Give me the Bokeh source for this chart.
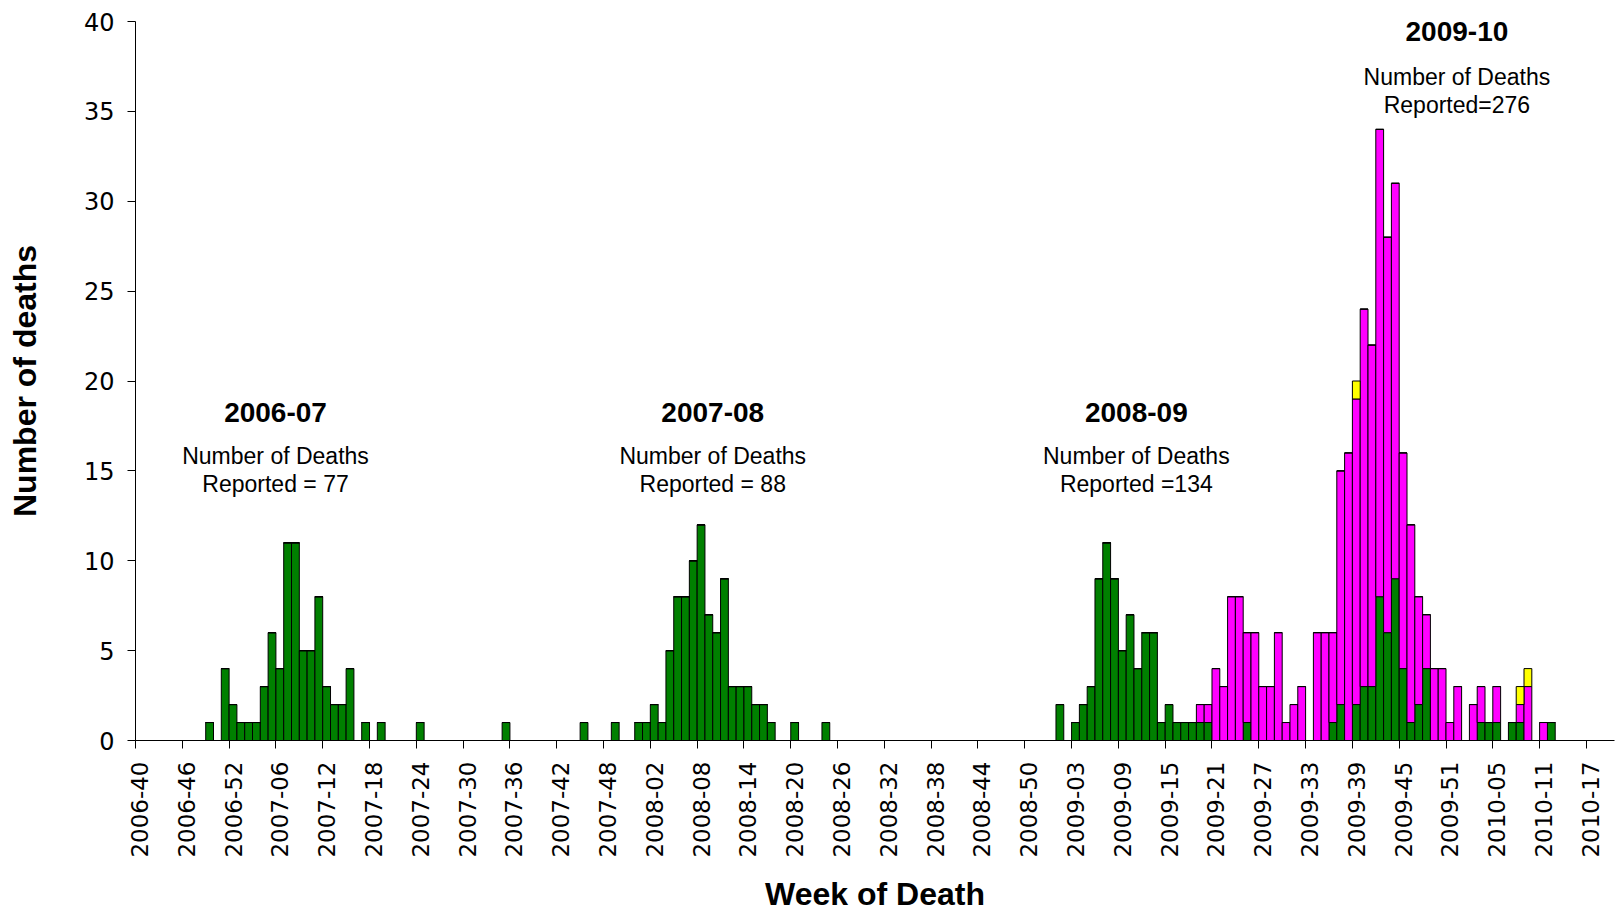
import math
from bokeh.plotting import figure
from bokeh.models import ColumnDataSource, FixedTicker, Range1d, Label
from bokeh.embed import file_html
from bokeh.resources import INLINE

# ---------------- data ----------------
# weeks per (surveillance) year, used to build the week-of-death categories
YEAR_WEEKS = {2006: 52, 2007: 52, 2008: 53, 2009: 52, 2010: 52}
FIRST_YEAR, FIRST_WEEK = 2006, 40
N_AXIS_WEEKS = 192

# deaths per week, starting at 2006-40 (one entry per week)
green = [
    0, 0, 0, 0, 0, 0, 0, 0, 0, 1, 0, 4, 2,          # 2006-40 .. 2006-52
    1, 1, 1, 3, 6, 4, 11, 11, 5, 5, 8, 3, 2,        # 2007-01 .. 13
    2, 4, 0, 1, 0, 1, 0, 0, 0, 0, 1, 0, 0,          # 2007-14 .. 26
    0, 0, 0, 0, 0, 0, 0, 0, 1, 0, 0, 0, 0,          # 2007-27 .. 39
    0, 0, 0, 0, 0, 1, 0, 0, 0, 1, 0, 0, 1,          # 2007-40 .. 52
    1, 2, 1, 5, 8, 8, 10, 12, 7, 6, 9, 3, 3,        # 2008-01 .. 13
    3, 2, 2, 1, 0, 0, 1, 0, 0, 0, 1, 0, 0,          # 2008-14 .. 26
    0, 0, 0, 0, 0, 0, 0, 0, 0, 0, 0, 0, 0,          # 2008-27 .. 39
    0, 0, 0, 0, 0, 0, 0, 0, 0, 0, 0, 0, 0, 0,       # 2008-40 .. 53
    2, 0, 1, 2, 3, 9, 11, 9, 5, 7, 4, 6, 6,         # 2009-01 .. 13
    1, 2, 1, 1, 1, 1, 1, 0, 0, 0, 0, 1, 0,          # 2009-14 .. 26
    0, 0, 0, 0, 0, 0, 0, 0, 0, 1, 2, 0, 2,          # 2009-27 .. 39
    3, 3, 8, 6, 9, 4, 1, 2, 4, 0, 0, 0, 0,          # 2009-40 .. 52
    0, 0, 1, 1, 1, 0, 1, 1, 0, 0, 0, 1,             # 2010-01 .. 12
]
magenta = [0] * 136 + [
    1, 1, 4, 3, 8, 8, 5, 6,                         # 2009-19 .. 26
    3, 3, 6, 1, 2, 3, 0, 6, 6, 5, 13, 16, 17,       # 2009-27 .. 39
    21, 19, 26, 22, 22, 12, 11, 6, 3, 4, 4, 1, 3,   # 2009-40 .. 52
    0, 2, 2, 0, 2, 0, 0, 1, 3, 0, 1, 0,             # 2010-01 .. 12
]
yellow = [0] * 156 + [
    1, 0, 0, 0, 0, 0, 0, 0, 0, 0, 0, 0, 0,          # 2009-39 .. 51
    0, 0, 0, 0, 0, 0, 0, 0, 1, 1, 0, 0, 0,          # 2009-52 .. 2010-12
]

season_names = ["2006-07", "2007-08", "2008-09", "2009-10"]
season_line1 = ["Number of Deaths"] * 4
season_line2 = ["Reported = 77", "Reported = 88", "Reported =134", "Reported=276"]

# ---------------- categories ----------------
weeks = []
yr, wk = FIRST_YEAR, FIRST_WEEK
while len(weeks) < N_AXIS_WEEKS:
    weeks.append(f"{yr}-{wk:02d}")
    wk += 1
    if wk > YEAR_WEEKS[yr]:
        yr, wk = yr + 1, 1

n = len(green)
source = ColumnDataSource(dict(
    x=list(range(n)),
    week=weeks[:n],
    green=green,
    magenta=magenta[:n],
    yellow=yellow[:n],
))

# ---------------- figure ----------------
p = figure(
    width=1616, height=914,
    x_range=Range1d(-0.5, 189.1), y_range=Range1d(0, 40),
    output_backend="svg", toolbar_location=None,
    min_border_left=135, min_border_right=2, min_border_top=21, min_border_bottom=10,
)
p.background_fill_color = "white"
p.outline_line_color = None
p.xgrid.visible = False
p.ygrid.visible = False

p.vbar_stack(
    ["green", "magenta", "yellow"], x="x", width=1.0, source=source,
    fill_color=["#008000", "#FF00FF", "#FFFF00"],
    line_color="black", line_width=1,
)

# x axis: labels at category centres, tick marks on category boundaries
tick_idx = list(range(0, 187, 6))
p.xaxis.ticker = FixedTicker(ticks=tick_idx, minor_ticks=[t - 0.5 for t in tick_idx])
p.xaxis.major_label_overrides = {t: weeks[t] for t in tick_idx}
p.xaxis.major_label_orientation = math.pi / 2
p.xaxis.major_tick_line_color = None
p.xaxis.major_tick_out = 8
p.xaxis.major_tick_in = 0
p.xaxis.minor_tick_line_color = "black"
p.xaxis.minor_tick_out = 8
p.xaxis.minor_tick_in = 0
p.xaxis.major_label_standoff = 13
p.xaxis.major_label_text_font = "DejaVu Sans"
p.xaxis.major_label_text_font_size = "23px"
p.xaxis.major_label_text_color = "black"
p.xaxis.axis_line_color = "black"
p.xaxis.axis_label = "Week of Death"
p.xaxis.axis_label_text_font = "Liberation Sans"
p.xaxis.axis_label_text_font_style = "bold"
p.xaxis.axis_label_text_font_size = "32px"
p.xaxis.axis_label_text_color = "black"
p.xaxis.axis_label_standoff = 15

# y axis
p.yaxis.ticker = FixedTicker(ticks=list(range(0, 41, 5)))
p.yaxis.minor_tick_line_color = None
p.yaxis.major_tick_out = 8
p.yaxis.major_tick_in = 0
p.yaxis.major_label_standoff = 13
p.yaxis.major_label_text_font = "DejaVu Sans"
p.yaxis.major_label_text_font_size = "24px"
p.yaxis.major_label_text_color = "black"
p.yaxis.axis_line_color = "black"
p.yaxis.axis_label = "Number of deaths"
p.yaxis.axis_label_text_font = "Liberation Sans"
p.yaxis.axis_label_text_font_style = "bold"
p.yaxis.axis_label_text_font_size = "32px"
p.yaxis.axis_label_text_color = "black"
p.yaxis.axis_label_standoff = 38

# season annotations (positions in data units)
ann_x = [17.45, 73.5, 127.8, 168.9]
ann_y = [(18.27, 15.8, 14.26)] * 3 + [(39.45, 36.93, 35.38)]
for name, l1, l2, x, (yh, y1, y2) in zip(season_names, season_line1, season_line2, ann_x, ann_y):
    p.add_layout(Label(x=x, y=yh, text=name, text_align="center", text_baseline="middle",
                       text_font="Liberation Sans", text_font_style="bold",
                       text_font_size="28px", text_color="black"))
    for t, yy in ((l1, y1), (l2, y2)):
        p.add_layout(Label(x=x, y=yy, text=t, text_align="center", text_baseline="middle",
                           text_font="Liberation Sans", text_font_size="23px",
                           text_color="black"))

open("out.html", "w").write(file_html(p, INLINE))
